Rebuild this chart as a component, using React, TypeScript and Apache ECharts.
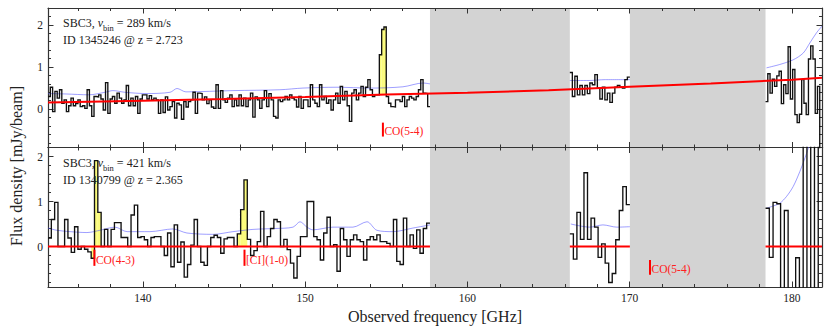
import React, { useEffect, useRef } from "react";
import * as echarts from "echarts";

const SERIF = "'Liberation Serif', 'Times New Roman', serif";

// ---------- axes ----------
const X_MIN = 134.15;
const X_MAX = 181.85;
const xMajorTicks = [140, 150, 160, 170, 180];
const xMinorTicks = [136, 138, 142, 144, 146, 148, 152, 154, 156, 158, 162, 164, 166, 168, 172, 174, 176, 178];
const yMajorTicks = [0, 1, 2];
const yMinorTop = [-0.8, -0.6, -0.4, -0.2, 0.2, 0.4, 0.6, 0.8, 1.2, 1.4, 1.6, 1.8, 2.2];
const yMinorBottom = [-0.8, -0.6, -0.4, -0.2, 0.2, 0.4, 0.6, 0.8, 1.2, 1.4, 1.6, 1.8];

// frequency coverage (GHz)
const segRanges = [
  [134.15, 157.69],
  [166.31, 170.01],
  [178.37, 181.85],
];
const grayBands = [
  [157.69, 166.31],
  [170.01, 178.37],
];

// ---------- top panel: SBC3, v_bin = 289 km/s, ID 1345246 @ z = 2.723 ----------
const topSeg1 = [
  0.30, 0.52, -0.06, 0.42, 0.26, 0.46, 0.14, 0.22, -0.06, 0.08,
  0.26, 0.08, 0.13, 0.22, 0.06, 0.08, 0.02, 0.46, 0.08, -0.17,
  0.30, 0.29, 0.34, 0.24, -0.02, 0.63, -0.10, 0.24, 0.30, 0.14,
  0.38, 0.26, 0.14, 0.22, 0.56, 0.08, 0.26, 0.08, 0.30, -0.10,
  0.24, 0.34, 0.34, 0.24, 0.32, 0.22, 0.26, 0.22, -0.10, 0.22,
  -0.08, 0.29, -0.02, 0.06, 0.18, -0.21,
  0.14, 0.10, -0.24, 0.18, 0.05, 0.18, 0.22, 0.40, -0.10, 0.38,
  0.37, 0.22, 0.29, 0.13, 0.22, 0.05, 0.02, 0.58, 0.02, 0.44,
  0.22, 0.16, 0.26, 0.34, 0.06, 0.22, 0.08, 0.34, 0.08, 0.26,
  0.06, 0.22, 0.38, -0.19, 0.29, 0.22, 0.02, 0.22, 0.44, 0.06,
  0.37,
  0.22, -0.17, -0.21, 0.22, 0.18, 0.22, 0.30, 0.22, 0.34, 0.26,
  0.22, 0.05, 0.30, 0.02, 0.22, 0.22, 0.06, 0.58, 0.22, 0.14,
  0.06, 0.58, 0.22, 0.30, 0.14, 0.22, -0.02, 0.22, 0.38, 0.14,
  0.54, 0.22, 0.42, 0.08, -0.29, 0.38, 0.46, 0.22, 0.38, 0.54,
  0.30, 0.52, 0.70, 0.46, 0.30, 0.34, 0.34, 1.29, 1.89, 1.95,
  0.30, 0.14, 0.06, 0.05, 0.22, 0.22, 0.18, 0.30, 0.06, 0.22,
  0.30, 0.26, 0.22, 0.30, 0.46, 0.70, 0.38, 0.37, 0.06,
];
const topSeg2 = [
  0.87, 0.30, 0.78, 0.34, 0.56, 0.34, 0.56, 0.37, 0.62, 0.58,
  0.82, 0.50, 0.24, 0.52, 0.22, 0.38, 0.16, 0.38, 0.52, 0.56,
  0.52, 0.50, 0.70, 0.76,
];
const topSeg3 = [
  0.18, 0.84, 0.38, 0.71, 0.54, 0.79, 0.90, 0.13, 0.58, 0.37,
  1.48, 0.24, 0.94, -0.13, -0.32, -0.12, 0.70, 0.14, -0.13, 1.19,
  1.50, 1.19, -0.10, 0.54, -1.2,
];
const topSegs = [topSeg1, topSeg2, topSeg3];
// emission-line bins (segment, first bin, last bin)
const topLineBins = [[0, 144, 146]];

// continuum model (red)
const contFreq = [134.15, 140, 145, 150, 155, 160, 165, 170, 175, 180, 181.85];
const contVal = [0.155, 0.2, 0.24, 0.29, 0.35, 0.39, 0.45, 0.53, 0.61, 0.70, 0.745];

// noise level (blue)
const topNoiseFreq = [
  [134.15, 135.26, 136.68, 137.66, 138.15, 138.89, 140.19, 141.67, 142.10, 142.65, 145.55, 148.44, 149.86, 151.96, 153.99, 156.02, 157.26, 157.69],
  [166.31, 167.5, 168.5, 170.01],
  [178.43, 179.25, 180.07, 180.69, 181.1, 181.51, 181.85],
];
const topNoiseVal = [
  [0.37, 0.36, 0.34, 0.40, 0.44, 0.40, 0.37, 0.40, 0.49, 0.41, 0.44, 0.46, 0.50, 0.52, 0.50, 0.53, 0.62, 0.60],
  [0.68, 0.68, 0.70, 0.70],
  [0.98, 1.06, 1.17, 1.33, 1.57, 1.81, 1.97],
];
const topLineFreq = [154.79];
const topLineName = ["CO(5-4)"];

// ---------- bottom panel: SBC3, v_bin = 421 km/s, ID 1340799 @ z = 2.365 ----------
const botSeg1 = [
  0.19, 0.60, 0.98, 0.00, 0.00, 0.60, 0.19, -0.13, 0.44, -0.06,
  0.00, -0.06, -0.12, -0.26, 1.91, 0.76, 0.00, 0.38, 0.00, 0.38,
  0.53, 0.53, 0.20, 0.20, 0.00, 0.70, 0.92, 0.20, 0.22, 0.15,
  0.00, 0.20, 0.22, 0.22, 0.00, -0.20, 0.30, -0.45, 0.48, -0.35,
  0.10, -0.68, -0.40, 0.03, 0.60, 0.00, -0.35, -0.42, 0.00, 0.20,
  0.25, 0.20, -0.15, 0.17, 0.20, 0.20, 0.00, 0.28, 0.82, 1.48,
  0.16, -0.20, -0.09, 0.11, 0.78, 0.00, 0.22, 0.40, 0.60, 0.55,
  0.00, 0.16, -0.07, -0.37, -0.70, -0.22, 0.22, 0.22, 1.00, 1.00,
  0.22, 0.15, -0.30, 0.30, 0.65, 0.00, 0.04, -0.55, 0.40, 0.15,
  -0.22, 0.15, 0.26, 0.15, 0.11, -0.30, 0.15, 0.22, 0.15, 0.26,
  0.11, 0.11, 0.07, 0.00, 0.60, -0.33, -0.40, 0.63, 0.00, 0.26,
  -0.04, 0.37, -0.15, 0.40, 0.52,
];
const botSeg2 = [
  0.28, -0.28, 0.76, 0.16, 1.64, 0.16, 0.63, 0.43, -0.24, 0.06,
  -0.37, -0.80, -0.60, 0.15, 0.80, 1.33, 0.93,
];
const botSeg3 = [
  0.85, -0.24, 0.98, 0.95, -1.2, 0.80, -1.2, -1.2, -0.25, -1.2,
  2.6, -1.2, 2.6, -1.2, 2.6,
];
const botSegs = [botSeg1, botSeg2, botSeg3];
const botLineBins = [[0, 13, 15], [0, 57, 59]];

const botNoiseFreq = [
  [134.15, 134.70, 135.51, 136.55, 137.35, 138.28, 139.02, 140.43, 141.85, 142.71, 144.32, 145.55, 146.78, 148.14, 149.25, 149.68, 150.11, 150.48, 151.71, 152.94, 153.81, 154.42, 155.41, 156.64, 157.69],
  [166.37, 167.54, 168.35, 169.21, 170.01],
  [178.43, 178.84, 179.25, 179.66, 180.07, 180.49, 180.9, 181.1],
];
const botNoiseVal = [
  [0.41, 0.36, 0.33, 0.31, 0.36, 0.43, 0.33, 0.33, 0.39, 0.30, 0.27, 0.33, 0.38, 0.40, 0.43, 0.55, 0.43, 0.37, 0.43, 0.43, 0.55, 0.36, 0.33, 0.41, 0.48],
  [0.50, 0.43, 0.48, 0.43, 0.44],
  [0.85, 0.90, 0.96, 1.11, 1.33, 1.67, 2.07, 2.3],
];
const botLineFreq = [137.01, 146.26, 171.25];
const botLineName = ["CO(4-3)", "[CI](1-0)", "CO(5-4)"];

// ---------- helpers ----------
const AX = "#333333";
const YELLOW = "#fbfb7c";
const GREY = "#d3d3d3";

function interp(xs: number[], ys: number[], x: number) {
  if (x <= xs[0]) return ys[0];
  for (let i = 1; i < xs.length; i++) {
    if (x <= xs[i]) {
      const t = (x - xs[i - 1]) / (xs[i] - xs[i - 1]);
      return ys[i - 1] + t * (ys[i] - ys[i - 1]);
    }
  }
  return ys[ys.length - 1];
}

function binEdges(range: number[], n: number) {
  const w = (range[1] - range[0]) / n;
  const e: number[] = [];
  for (let i = 0; i <= n; i++) e.push(range[0] + i * w);
  return e;
}

function stepPoints(range: number[], vals: number[]) {
  const e = binEdges(range, vals.length);
  const pts: number[][] = [];
  vals.forEach((v, i) => {
    pts.push([e[i], v]);
    pts.push([e[i + 1], v]);
  });
  return pts;
}

const hiddenLine = { show: false, onZero: false };

function xAxesFor(g: number, labels: boolean) {
  const base = {
    type: "value",
    gridIndex: g,
    min: X_MIN,
    max: X_MAX,
    splitLine: { show: false },
    axisLine: { show: true, onZero: false, lineStyle: { color: AX, width: 1.2 } },
  };
  const major = { show: true, inside: true, length: 5.5, customValues: xMajorTicks, lineStyle: { color: AX, width: 1 } };
  const minor = { show: true, inside: true, length: 3, customValues: xMinorTicks, lineStyle: { color: AX, width: 1 } };
  return [
    {
      ...base,
      position: "bottom",
      axisTick: major,
      axisLabel: {
        show: labels,
        customValues: xMajorTicks,
        margin: 5,
        fontFamily: SERIF,
        fontSize: 11.5,
        color: "#222",
      },
    },
    { ...base, position: "bottom", axisLine: hiddenLine, axisTick: minor, axisLabel: { show: false } },
    { ...base, position: "top", axisTick: major, axisLabel: { show: false } },
    { ...base, position: "top", axisLine: hiddenLine, axisTick: minor, axisLabel: { show: false } },
  ];
}

function yAxesFor(g: number, min: number, max: number, minorTicks: number[]) {
  const base = {
    type: "value",
    gridIndex: g,
    min,
    max,
    splitLine: { show: false },
    axisLine: { show: true, onZero: false, lineStyle: { color: AX, width: 1.2 } },
  };
  const major = { show: true, inside: true, length: 5.5, customValues: yMajorTicks, lineStyle: { color: AX, width: 1 } };
  const minor = { show: true, inside: true, length: 3, customValues: minorTicks, lineStyle: { color: AX, width: 1 } };
  return [
    {
      ...base,
      position: "left",
      axisTick: major,
      axisLabel: {
        show: true,
        customValues: yMajorTicks,
        margin: 5,
        fontFamily: SERIF,
        fontSize: 11.5,
        color: "#222",
      },
    },
    { ...base, position: "left", axisLine: hiddenLine, axisTick: minor, axisLabel: { show: false } },
    { ...base, position: "right", axisTick: major, axisLabel: { show: false } },
    { ...base, position: "right", axisLine: hiddenLine, axisTick: minor, axisLabel: { show: false } },
  ];
}

function panelSeries(
  g: number,
  segs: number[][],
  lineBins: number[][],
  noiseF: number[][],
  noiseV: number[][],
  baseAt: (f: number) => number,
  lineFreq: number[],
  lineName: string[],
  markerY: number[][]
) {
  const xi = g * 4;
  const yi = g * 4;
  const out: any[] = [];
  // grey (unobserved) bands
  out.push({
    type: "custom",
    xAxisIndex: xi,
    yAxisIndex: yi,
    z: -1,
    silent: true,
    encode: { x: [0, 1] },
    data: grayBands.map((b) => [b[0], b[1]]),
    renderItem: (params: any, api: any) => {
      const cs = params.coordSys;
      const x0 = api.coord([api.value(0), 0])[0];
      const x1 = api.coord([api.value(1), 0])[0];
      return { type: "rect", shape: { x: x0, y: cs.y, width: x1 - x0, height: cs.height }, style: { fill: GREY } };
    },
  });
  // yellow line bins
  const yData: number[][] = [];
  lineBins.forEach(([s, a, b]) => {
    const e = binEdges(segRanges[s], segs[s].length);
    for (let i = a; i <= b; i++) {
      const mid = (e[i] + e[i + 1]) / 2;
      yData.push([e[i], e[i + 1], baseAt(mid), segs[s][i]]);
    }
  });
  out.push({
    type: "custom",
    xAxisIndex: xi,
    yAxisIndex: yi,
    z: 2,
    silent: true,
    encode: { x: [0, 1], y: [2, 3] },
    data: yData,
    renderItem: (params: any, api: any) => {
      const p1 = api.coord([api.value(0), api.value(3)]);
      const p2 = api.coord([api.value(1), api.value(2)]);
      return {
        type: "rect",
        shape: { x: p1[0], y: Math.min(p1[1], p2[1]), width: p2[0] - p1[0], height: Math.abs(p2[1] - p1[1]) },
        style: { fill: YELLOW },
      };
    },
  });
  // noise (blue)
  noiseF.forEach((fs, k) => {
    out.push({
      type: "line",
      xAxisIndex: xi,
      yAxisIndex: yi,
      z: 3,
      silent: true,
      symbol: "none",
      smooth: 0.3,
      lineStyle: { color: "rgba(70,70,255,0.65)", width: 0.8 },
      data: fs.map((f, i) => [f, noiseV[k][i]]),
    });
  });
  // spectra (black steps)
  segs.forEach((vals, s) => {
    out.push({
      type: "line",
      xAxisIndex: xi,
      yAxisIndex: yi,
      z: 4,
      silent: true,
      symbol: "none",
      lineStyle: { color: "#111", width: 1.35, join: "miter" },
      data: stepPoints(segRanges[s], vals),
    });
  });
  // line markers
  out.push({
    type: "custom",
    xAxisIndex: xi,
    yAxisIndex: yi,
    z: 6,
    silent: true,
    encode: { x: 0 },
    data: lineFreq.map((f) => [f]),
    renderItem: (params: any, api: any) => {
      const idx = params.dataIndex;
      const [ya, yb] = markerY[idx];
      const p1 = api.coord([api.value(0), ya]);
      const p2 = api.coord([api.value(0), yb]);
      return {
        type: "group",
        children: [
          {
            type: "line",
            shape: { x1: p1[0], y1: p1[1], x2: p2[0], y2: p2[1] },
            style: { stroke: "#ff0000", lineWidth: 2 },
          },
          {
            type: "text",
            x: p1[0] + 1.5,
            y: p2[1] - 5.5,
            style: {
              text: lineName[idx],
              fill: "#ff2020",
              fontFamily: SERIF,
              fontSize: 11.5,
              align: "left",
              verticalAlign: "middle",
            },
          },
        ],
      };
    },
  });
  return out;
}

function annotation(x: number, y: number, vbin: string, id: string, z: string) {
  const rich = {
    a: { fontFamily: SERIF, fontSize: 12, fill: "#222", verticalAlign: "top", lineHeight: 14 },
    i: { fontFamily: SERIF, fontSize: 12, fontStyle: "italic", fill: "#222", verticalAlign: "top", lineHeight: 14 },
    s: { fontFamily: SERIF, fontSize: 8.5, fill: "#222", verticalAlign: "top", lineHeight: 10, padding: [6, 0, 0, 0] },
  };
  return [
    {
      type: "text",
      x,
      y: y - 8,
      z: 50,
      style: { text: `{a|SBC3, }{i|v}{s|bin}{a| = ${vbin} km/s}`, rich },
    },
    {
      type: "text",
      x,
      y: y + 15,
      z: 50,
      style: {
        text: `ID ${id} @ z = ${z}`,
        fontFamily: SERIF,
        fontSize: 12,
        fill: "#222",
        verticalAlign: "middle",
      },
    },
  ];
}

export default function App() {
  const ref = useRef<HTMLDivElement>(null);
  useEffect(() => {
    document.body.style.margin = "0";
    if (!ref.current) return;
    const chart = echarts.init(ref.current, null, { renderer: "svg" });
    const topBase = (f: number) => interp(contFreq, contVal, f);
    const series = [
      ...panelSeries(0, topSegs, topLineBins, topNoiseFreq, topNoiseVal, topBase, topLineFreq, topLineName, [[-0.32, -0.65]]),
      {
        type: "line",
        xAxisIndex: 0,
        yAxisIndex: 0,
        z: 5,
        silent: true,
        symbol: "none",
        lineStyle: { color: "#ff0000", width: 2 },
        data: contFreq.map((f, i) => [f, contVal[i]]),
      },
      ...panelSeries(1, botSegs, botLineBins, botNoiseFreq, botNoiseVal, () => 0, botLineFreq, botLineName, [
        [-0.07, -0.43],
        [-0.07, -0.43],
        [-0.3, -0.63],
      ]),
      ...segRanges.map((r) => ({
        type: "line",
        xAxisIndex: 4,
        yAxisIndex: 4,
        z: 5,
        silent: true,
        symbol: "none",
        lineStyle: { color: "#ff0000", width: 2 },
        data: [
          [r[0], 0],
          [r[1], 0],
        ],
      })),
    ];
    chart.setOption({
      animation: false,
      grid: [
        { left: 48, top: 8, width: 774, height: 139.5 },
        { left: 48, top: 147.5, width: 774, height: 139.5 },
      ],
      xAxis: [...xAxesFor(0, false), ...xAxesFor(1, true)],
      yAxis: [...yAxesFor(0, -0.91, 2.4, yMinorTop), ...yAxesFor(1, -0.9, 2.2, yMinorBottom)],
      series,
      graphic: [
        ...annotation(63, 25, "289", "1345246", "2.723"),
        ...annotation(63, 165, "421", "1340799", "2.365"),
        {
          type: "text",
          x: 16,
          y: 166,
          rotation: Math.PI / 2,
          style: {
            text: "Flux density [mJy/beam]",
            fontFamily: SERIF,
            fontSize: 16,
            fill: "#222",
            align: "center",
            verticalAlign: "middle",
          },
        },
        {
          type: "text",
          x: 435,
          y: 316,
          style: {
            text: "Observed frequency [GHz]",
            fontFamily: SERIF,
            fontSize: 16,
            fill: "#222",
            align: "center",
            verticalAlign: "middle",
          },
        },
      ],
    });
    return () => chart.dispose();
  }, []);
  return <div ref={ref} style={{ width: 830, height: 331 }} />;
}
